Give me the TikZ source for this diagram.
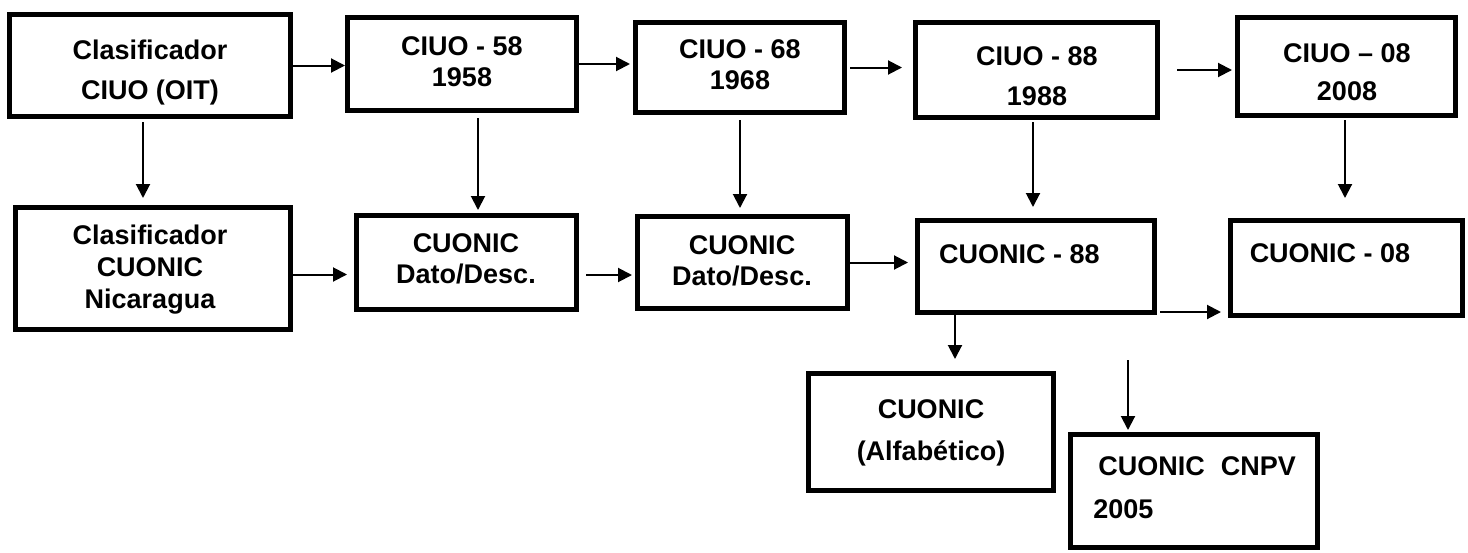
\documentclass[tikz,border=0pt]{standalone}
\usepackage{fontspec}
\setmainfont{Liberation Sans}
\usetikzlibrary{arrows.meta}
\begin{document}
\begin{tikzpicture}[x=0.5pt,y=-0.5pt,
  box/.style={draw,line width=2.5pt,inner sep=0pt},
  txt/.style={font=\bfseries\fontsize{13.5}{15.5}\selectfont,align=center,inner sep=0pt,anchor=base},
  arr/.style={line width=1pt,-{Triangle[length=7pt,width=7pt]}}]
\useasboundingbox (0,0) rectangle (1468,552);
% first row
\node[box,minimum width=140.5pt,minimum height=51pt](b1) at (150,65.5){};
\node[box,minimum width=114.5pt,minimum height=46.5pt](b2) at (462,64){};
\node[box,minimum width=104.5pt,minimum height=45pt](b3) at (740,67.5){};
\node[box,minimum width=121pt,minimum height=47.5pt](b4) at (1036.5,70){};
\node[box,minimum width=109pt,minimum height=49pt](b5) at (1346.5,66.5){};
% second row
\node[box,minimum width=137.5pt,minimum height=61pt](b6) at (153,268.5){};
\node[box,minimum width=110pt,minimum height=47pt](b7) at (466.5,262.5){};
\node[box,minimum width=105pt,minimum height=46pt](b8) at (742.5,262.5){};
\node[box,minimum width=118.5pt,minimum height=46pt](b9) at (1036,266.5){};
\node[box,minimum width=116pt,minimum height=47.5pt](b10) at (1346.5,268){};
% third row
\node[box,minimum width=122.5pt,minimum height=58.5pt](b11) at (931,432){};
\node[box,minimum width=123.5pt,minimum height=56.5pt](b12) at (1194,491){};
% texts (base = last line)
\node[txt](t1) at (150,99){Clasificador\\[4.5pt]CIUO (OIT)};
\node[txt](t2) at (462,86){CIUO - 58\\1958};
\node[txt](t3) at (740,89){CIUO - 68\\1968};
\node[txt](t4) at (1037,105){CIUO - 88\\[4.5pt]1988};
\node[txt](t5) at (1347,100){CIUO – 08\\[3.5pt]2008};
\node[txt](t6) at (150,308){Clasificador\\[0.5pt]CUONIC\\[0.5pt]Nicaragua};
\node[txt](t7) at (466,283){CUONIC\\Dato/Desc.};
\node[txt](t8) at (742,285){CUONIC\\Dato/Desc.};
\node[txt](t9) at (1019.5,263){CUONIC - 88};
\node[txt](t10) at (1330,262){CUONIC - 08};
\node[txt](t11) at (931,460){CUONIC\\[5.5pt](Alfabético)};
\node[txt,align=left,anchor=base west](t12) at (1093,518){\hspace*{2.5pt}CUONIC\hspace{8pt}CNPV\\[6pt]2005};
% arrows
\draw[arr](b1.east)--(b1.east-|b2.west);
\draw[arr,shorten >=1.5pt](b2.east)--(b2.east-|b3.west);
\draw[arr,shorten <=1.5pt,shorten >=5.5pt](b3.east)--(b3.east-|b4.west);
\draw[arr,shorten <=8.5pt,shorten >=1.5pt](b4.east)--(b4.east-|b5.west);
\draw[arr,shorten <=1.5pt,shorten >=3.5pt]([xshift=-3.5pt]b1.south)--([xshift=-3.5pt]b1.south|-b6.north);
\draw[arr,shorten <=2.5pt,shorten >=1.5pt]([xshift=8pt]b2.south)--([xshift=8pt]b2.south|-b7.north);
\draw[arr,shorten <=2.5pt,shorten >=3pt](b3.south)--(b3.south|-b8.north);
\draw[arr,shorten <=1pt,shorten >=5.5pt]([xshift=-1.75pt]b4.south)--([xshift=-1.75pt]b4.south|-b9.north);
\draw[arr,shorten <=1pt,shorten >=10pt]([xshift=-0.75pt]b5.south)--([xshift=-0.75pt]b5.south|-b10.north);
\draw[arr,shorten >=3.5pt]([yshift=-3pt]b6.east)--([yshift=-3pt]b6.east-|b7.west);
\draw[arr,shorten <=3.5pt,shorten >=1.5pt]([yshift=-6.25pt]b7.east)--([yshift=-6.25pt]b7.east-|b8.west);
\draw[arr,shorten >=3.5pt](b8.east)--(b8.east-|b9.west);
\draw[arr,shorten <=1.5pt,shorten >=3.5pt]([yshift=-22.75pt]b9.east)--([yshift=-22.75pt]b9.east-|b10.west);
\draw[arr,shorten >=6pt]([xshift=-40.5pt]b9.south)--([xshift=-40.5pt]b9.south|-b11.north);
\coordinate(c12) at (1128,360);
\draw[arr,shorten >=1pt](c12)--(c12|-b12.north);
\end{tikzpicture}
\end{document}
